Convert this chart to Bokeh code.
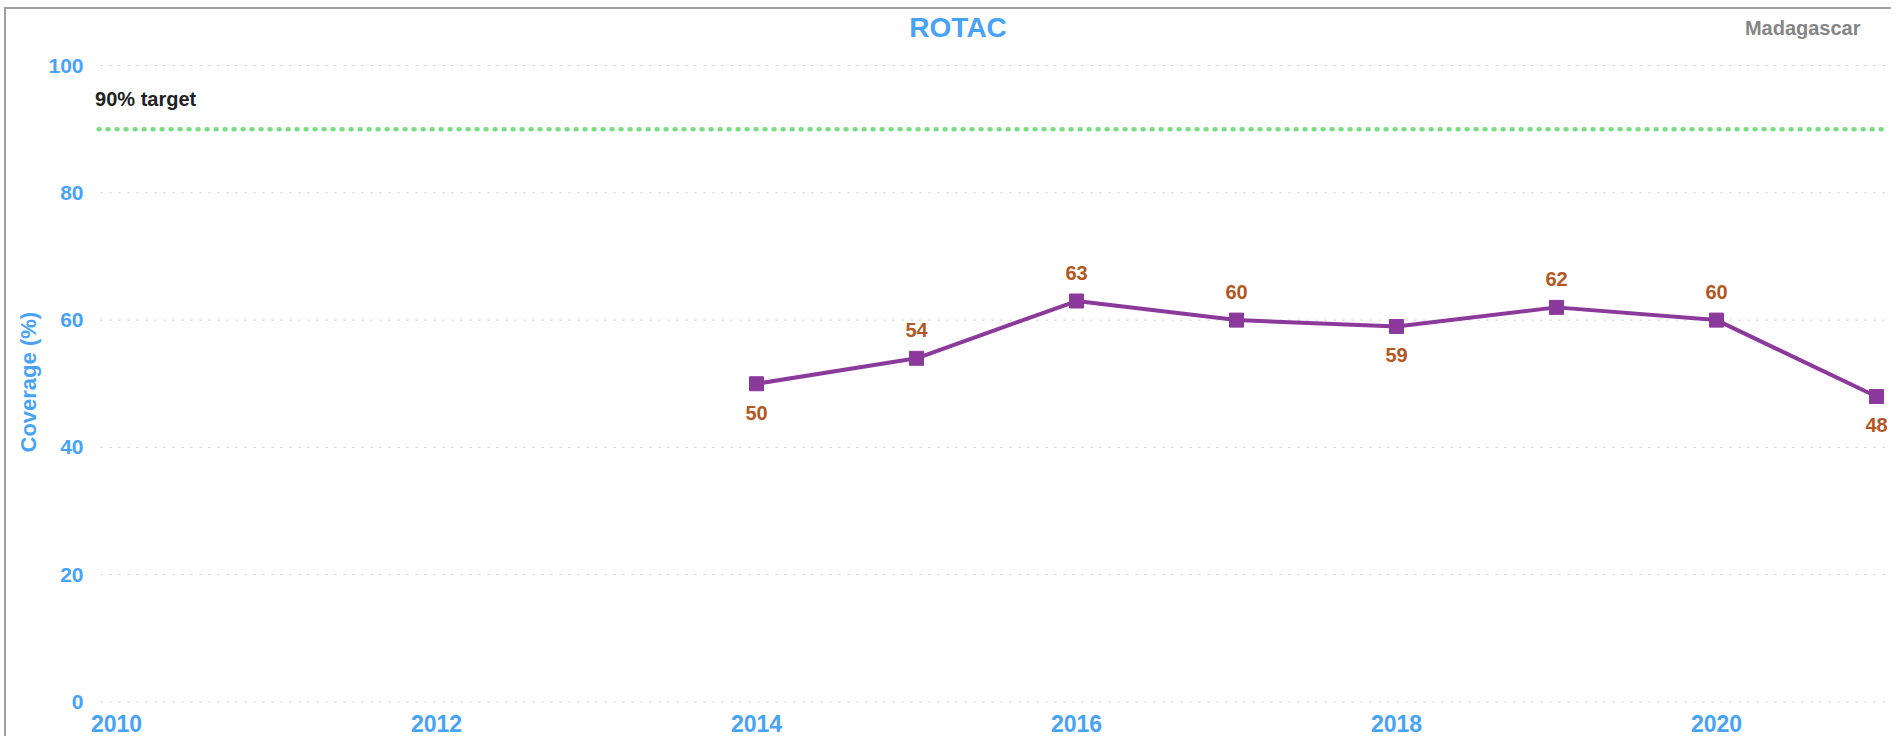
from bokeh.plotting import figure
from bokeh.models import Range1d, FixedTicker, Label, ColumnDataSource, Title
from bokeh.core.properties import value
from bokeh.embed import file_html
from bokeh.resources import INLINE

# ---- data ----
years = [2014, 2015, 2016, 2017, 2018, 2019, 2020, 2021]
coverage = [50, 54, 63, 60, 59, 62, 60, 48]
x_ticks = [2010, 2012, 2014, 2016, 2018, 2020]
y_ticks = [0, 20, 40, 60, 80, 100]
target = 90
title_text = "ROTAC"
country = "Madagascar"
target_text = "90% target"
y_label = "Coverage (%)"

FONT = "Liberation Sans"
BLUE = "#47a3f7"
PURPLE = "#8b3a9c"
LABEL_COL = "#b3561f"
GREEN = "#79dd86"

X_START, X_END = 2009.825, 2021.075
GRID_X0 = 2009.9

p = figure(width=1887, height=729, output_backend="svg", toolbar_location=None,
           x_range=Range1d(X_START, X_END), y_range=Range1d(-1.02, 108.8),
           min_border_left=82, min_border_right=5, min_border_top=0, min_border_bottom=30)
p.outline_line_color = None
p.background_fill_color = "white"
p.border_fill_color = "white"

# axes
p.xaxis.ticker = FixedTicker(ticks=x_ticks)
p.yaxis.ticker = FixedTicker(ticks=y_ticks)
for ax in (p.xaxis[0], p.yaxis[0]):
    ax.axis_line_color = None
    ax.major_tick_line_color = None
    ax.minor_tick_line_color = None
    ax.major_tick_in = 0
    ax.major_tick_out = 0
    ax.major_label_text_color = BLUE
    ax.major_label_text_font = FONT
    ax.major_label_text_font_style = "bold"
p.xaxis.major_label_text_font_size = "23px"
p.xaxis.major_label_standoff = 6
p.yaxis.major_label_text_font_size = "21px"
p.yaxis.major_label_standoff = 5

# y axis title, placed in its own panel left of the tick labels
p.add_layout(Title(text=y_label, align="left", vertical_align="top", offset=256, standoff=6,
                   text_color=BLUE, text_font=FONT, text_font_style="bold",
                   text_font_size="22px"), "left")

p.xgrid.grid_line_color = None
p.ygrid.grid_line_color = None

# horizontal dotted grid lines, starting at the left of the first year
p.segment(x0=[GRID_X0] * len(y_ticks), x1=[X_END] * len(y_ticks), y0=y_ticks, y1=y_ticks,
          line_color="#c8c8c8", line_width=1, line_dash="2 7")

# target line
p.segment(x0=[GRID_X0 - 0.012], x1=[X_END], y0=[target], y1=[target], line_color=GREEN,
          line_width=4.5, line_dash="1 8", line_cap="round")
p.add_layout(Label(x=2009.866, y=94.7, text=target_text, text_font=FONT,
                   text_font_style="bold", text_font_size="20px", text_color="#222222",
                   text_align="left", text_baseline="middle"))

# series
src = ColumnDataSource(dict(x=years, y=coverage))
p.line("x", "y", source=src, line_color=PURPLE, line_width=4)
p.scatter("x", "y", source=src, marker="square", size=14, fill_color=PURPLE,
          line_color=PURPLE)

# labels: below at local minima, above otherwise
above = dict(x=[], y=[], t=[])
below = dict(x=[], y=[], t=[])
n = len(coverage)
for i, v in enumerate(coverage):
    prev_v = coverage[i - 1] if i > 0 else None
    next_v = coverage[i + 1] if i < n - 1 else None
    is_min = (prev_v is None or v < prev_v) and (next_v is None or v < next_v)
    d = below if is_min else above
    d["x"].append(years[i]); d["y"].append(v); d["t"].append(str(v))
p.text("x", "y", text="t", source=ColumnDataSource(above), y_offset=-28,
       text_align="center", text_baseline="middle", text_font=value(FONT),
       text_font_style="bold", text_font_size="20px", text_color=LABEL_COL)
p.text("x", "y", text="t", source=ColumnDataSource(below), y_offset=29,
       text_align="center", text_baseline="middle", text_font=value(FONT),
       text_font_style="bold", text_font_size="20px", text_color=LABEL_COL)

# titles
p.add_layout(Label(x=2015.26, y=105.97, text=title_text, text_font=FONT,
                   text_font_style="bold", text_font_size="28px", text_color=BLUE,
                   text_align="center", text_baseline="middle"))
p.add_layout(Label(x=2020.90, y=105.97, text=country, text_font=FONT,
                   text_font_style="bold", text_font_size="20px", text_color="#858585",
                   text_align="right", text_baseline="middle"))

p.styles = {"border-top": "2px solid #a0a0a0", "border-left": "2px solid #a0a0a0",
            "margin-left": "4px", "margin-top": "7px"}

open("out.html", "w").write(file_html(p, INLINE))
